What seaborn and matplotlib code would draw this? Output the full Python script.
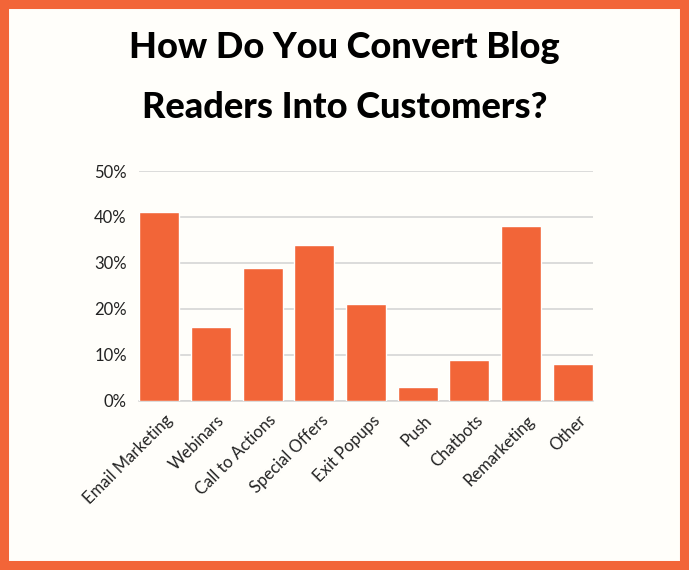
import matplotlib
matplotlib.use("Agg")
import matplotlib.pyplot as plt
import matplotlib.patches as mpatches
import matplotlib.transforms as mtransforms
import seaborn as sns
import pandas as pd

categories = ["Email Marketing", "Webinars", "Call to Actions", "Special Offers",
              "Exit Popups", "Push", "Chatbots", "Remarketing", "Other"]
shares = [41, 16, 29, 34, 21, 3, 9, 38, 8]
y_ticks = [0, 10, 20, 30, 40, 50]
y_tick_labels = ["0%", "10%", "20%", "30%", "40%", "50%"]
title_lines = ["How Do You Convert Blog", "Readers Into Customers?"]

ORANGE = "#F26538"
BG = "#FFFEFA"

sns.set_theme(style="white")
plt.rcParams["font.family"] = ["Lato", "DejaVu Sans"]

df = pd.DataFrame({"category": categories, "share": shares})

fig = plt.figure(figsize=(6.89, 5.70), dpi=100)
fig.patch.set_facecolor(BG)

# orange frame around the whole graphic
fig.patches.append(mpatches.Rectangle((0, 0), 1, 1, transform=fig.transFigure,
                                      fill=False, edgecolor=ORANGE,
                                      linewidth=13, zorder=0))

ax = fig.add_axes([0.2022, 0.2965, 0.6578, 0.4035])
ax.set_facecolor(BG)

sns.barplot(data=df, x="category", y="share", color=ORANGE, saturation=1,
            width=0.774, ax=ax, zorder=3)

ax.set_xlim(-0.387, len(categories) - 1 + 0.387)
ax.set_ylim(0, 50)
ax.set_yticks(y_ticks)
ax.set_yticklabels(y_tick_labels, fontsize=12, color="#222222")
ax.grid(axis="y", color="#D2D2D2", linewidth=1.1, zorder=0)
ax.set_axisbelow(True)
for s in ["left", "right", "top"]:
    ax.spines[s].set_visible(False)
ax.spines["bottom"].set_color("#D2D2D2")
ax.spines["bottom"].set_linewidth(1.1)
ax.tick_params(axis="y", length=0, pad=9)
ax.tick_params(axis="x", length=0, pad=8)
ax.set_xlabel("")
ax.set_ylabel("")

ax.set_xticks(range(len(categories)))
ax.set_xticklabels(categories, rotation=45, ha="right", rotation_mode="anchor",
                   fontsize=12, color="#222222")
offset = mtransforms.ScaledTranslation(4 / 72, 0, fig.dpi_scale_trans)
for lbl in ax.get_xticklabels():
    lbl.set_transform(lbl.get_transform() + offset)

fig.text(0.5, 1 - 47 / 570, title_lines[0], ha="center", va="center",
         fontsize=26, fontweight="black", color="#000000")
fig.text(0.5, 1 - 107 / 570, title_lines[1], ha="center", va="center",
         fontsize=26, fontweight="black", color="#000000")

fig.savefig("out.png", dpi=100, facecolor=BG)
